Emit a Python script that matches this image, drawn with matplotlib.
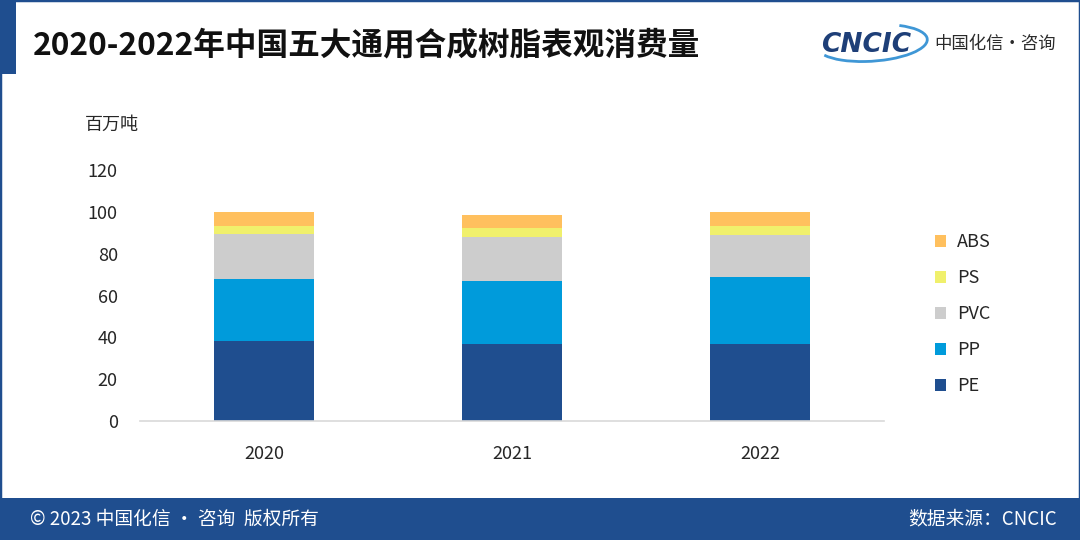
import matplotlib
matplotlib.use("Agg")
import matplotlib.pyplot as plt
from matplotlib.patches import Rectangle, Patch, Arc
import numpy as np

plt.rcParams['font.family'] = ['Noto Sans CJK SC', 'DejaVu Sans']

years = ["2020", "2021", "2022"]
series_names = ["PE", "PP", "PVC", "PS", "ABS"]
pe = [38.3, 36.8, 36.8]
pp = [29.5, 30.3, 32.1]
pvc = [21.8, 21.1, 20.2]
ps = [3.8, 4.3, 4.3]
abs_ = [6.3, 6.1, 6.3]
colors = {"PE": "#1F4E8F", "PP": "#009BDB", "PVC": "#CDCDCD", "PS": "#F0F06C", "ABS": "#FFC05E"}

title = "2020-2022年中国五大通用合成树脂表观消费量"
unit = "百万吨"
footer_left = "© 2023 中国化信 • 咨询  版权所有"
footer_right = "数据来源：CNCIC"
blue = "#1F4E8F"

W, H = 1080, 540
fig = plt.figure(figsize=(10.8, 5.4), dpi=100)

def fx(px):
    return px / W

def fy(py):
    return 1 - py / H

ax = fig.add_axes([fx(140), fy(421), fx(884) - fx(140), fy(170) - fy(421)])
x = np.arange(len(years))
data = {"PE": pe, "PP": pp, "PVC": pvc, "PS": ps, "ABS": abs_}
bottom = np.zeros(len(years))
for name in series_names:
    vals = np.array(data[name])
    ax.bar(x, vals, width=0.4, bottom=bottom, color=colors[name], label=name, linewidth=0)
    bottom += vals

ax.set_xlim(-0.5, 2.5)
ax.set_ylim(0, 120)
ax.set_yticks(np.arange(0, 121, 20))
ax.set_xticks(x)
ax.set_xticklabels(years)
for s in ["top", "right", "left"]:
    ax.spines[s].set_visible(False)
ax.spines["bottom"].set_color("#D9D9D9")
ax.spines["bottom"].set_linewidth(1.2)
ax.tick_params(axis="both", length=0, labelsize=13, colors="#262626")
ax.tick_params(axis="y", pad=16)
ax.tick_params(axis="x", pad=17)

handles = [Patch(facecolor=colors[n], edgecolor="none", label=n) for n in ["ABS", "PS", "PVC", "PP", "PE"]]
leg = fig.legend(handles=handles, loc="upper left", bbox_to_anchor=(fx(928), fy(226)),
                 frameon=False, fontsize=13, handlelength=0.6, handleheight=0.6,
                 handletextpad=0.6, labelspacing=1.0, borderaxespad=0)
for t in leg.get_texts():
    t.set_color("#262626")

fig.text(fx(85), fy(125), unit, fontsize=13, color="#262626", va="center", ha="left")

# header
fig.patches.append(Rectangle((0, fy(74)), fx(16), 74 / H, transform=fig.transFigure,
                             facecolor=blue, edgecolor="none", zorder=0))
fig.patches.append(Rectangle((0, 0), 1, 1, transform=fig.transFigure, facecolor="none",
                             edgecolor=blue, linewidth=2.5, zorder=5))
fig.text(fx(33), fy(45), title, fontsize=22.8, fontweight="bold", color="#111111",
         va="center", ha="left")

# logo
fig.text(fx(821), fy(45), "CNCIC", fontsize=19, fontweight="bold", fontstyle="italic",
         family="DejaVu Sans", color="#1E3F78", va="center", ha="left")
fig.patches.append(Arc((fx(872), fy(43)), fx(112), 36 / H, angle=12, theta1=195, theta2=40,
                       transform=fig.transFigure, color="#3F97D6", linewidth=2))
fig.text(fx(934), fy(44), "中国化信·咨询", fontsize=12.5, color="#2B2B2B", va="center", ha="left")

# footer
fig.patches.append(Rectangle((0, 0), 1, 42 / H, transform=fig.transFigure,
                             facecolor=blue, edgecolor="none", zorder=0))
fig.text(fx(30), fy(519), footer_left, fontsize=13.5, color="white", va="center", ha="left")
fig.text(fx(1057), fy(519), footer_right, fontsize=13.5, color="white", va="center", ha="right")

fig.savefig("out.png", dpi=100)
